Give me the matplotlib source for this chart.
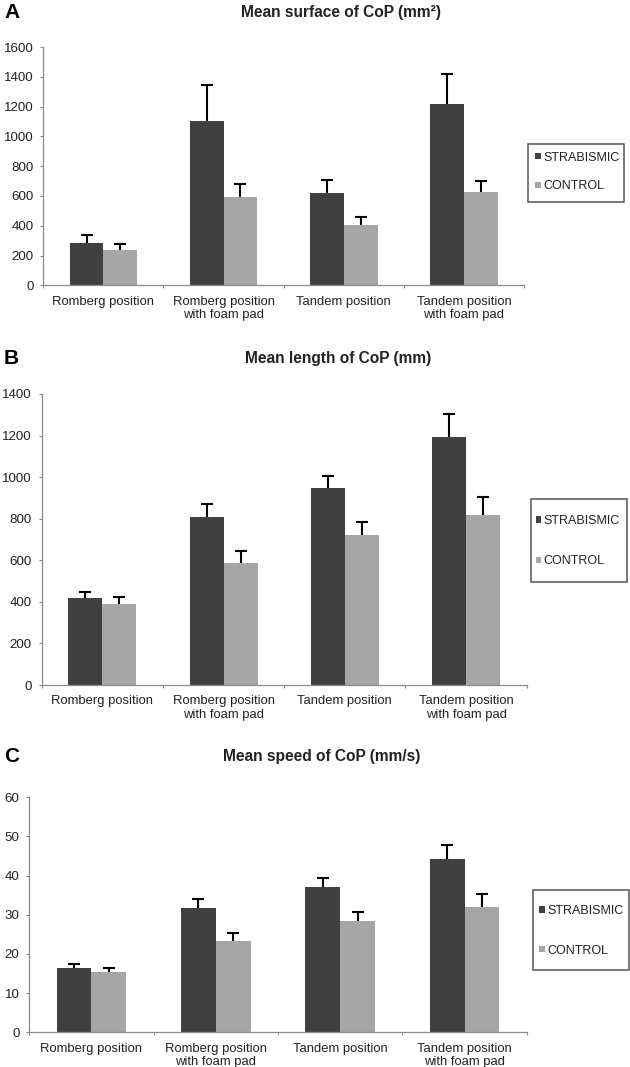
import matplotlib
matplotlib.use("Agg")
import matplotlib.pyplot as plt
from matplotlib.patches import Rectangle
import numpy as np

plt.rcParams['font.family'] = ['Liberation Sans', 'DejaVu Sans']

categories = ["Romberg position", "Romberg position\nwith foam pad",
              "Tandem position", "Tandem position\nwith foam pad"]
series_names = ["STRABISMIC", "CONTROL"]

# Panel A: Mean surface of CoP (mm²)
surf_strab = [284, 1105, 622, 1215]
surf_strab_err = [56, 238, 87, 204]
surf_ctrl = [237, 591, 403, 624]
surf_ctrl_err = [43, 91, 58, 76]

# Panel B: Mean length of CoP (mm)
len_strab = [417, 810, 946, 1195]
len_strab_err = [29, 59, 59, 107]
len_ctrl = [388, 587, 720, 819]
len_ctrl_err = [34, 58, 64, 84]

# Panel C: Mean speed of CoP (mm/s)
spd_strab = [16.5, 31.7, 37.0, 44.3]
spd_strab_err = [1.0, 2.4, 2.4, 3.6]
spd_ctrl = [15.4, 23.2, 28.3, 32.1]
spd_ctrl_err = [1.1, 2.2, 2.5, 3.3]

yticks_A = [0, 200, 400, 600, 800, 1000, 1200, 1400, 1600]
yticks_B = [0, 200, 400, 600, 800, 1000, 1200, 1400]
yticks_C = [0, 10, 20, 30, 40, 50, 60]

titles = ["Mean surface of CoP (mm²)", "Mean length of CoP (mm)", "Mean speed of CoP (mm/s)"]
letters = ["A", "B", "C"]

DARK = "#404040"
LIGHT = "#a6a6a6"
AXC = "#8c8c8c"
TXT = "#222222"

W, H = 630, 1067
fig = plt.figure(figsize=(W / 100, H / 100), dpi=100)

def fx(px):
    return px / W

def fy(py):
    return 1 - py / H

# axes pixel boxes: left, right, top, bottom
boxes = [(43.3, 524, 47, 285.3), (41.7, 526.7, 394, 685), (29.3, 526.7, 797.3, 1032.3)]
# legend frames: left, right, top, bottom ; handle left x ; rows centre y
legend_frames = [(528.3, 624.3, 144, 201.7), (530.7, 627.3, 499.3, 581.7), (533.3, 629.3, 890, 970)]
legend_anchor = [(535, 172.0), (535.7, 541.2), (539, 930.9)]
label_spacing = [1.35, 2.28, 2.18]
title_pos = [(341, 12), (338, 359), (322, 757)]
letter_pos = [(4, 13), (4, 359), (4, 756)]

data = [
    (surf_strab, surf_strab_err, surf_ctrl, surf_ctrl_err, yticks_A),
    (len_strab, len_strab_err, len_ctrl, len_ctrl_err, yticks_B),
    (spd_strab, spd_strab_err, spd_ctrl, spd_ctrl_err, yticks_C),
]

bw = 0.281
x = np.arange(len(categories))
for i, (s, se, c, ce, yt) in enumerate(data):
    l, r, t, b = boxes[i]
    ax = fig.add_axes([fx(l), fy(b), fx(r) - fx(l), fy(t) - fy(b)])
    ekw = dict(ecolor="black", elinewidth=1.5, capsize=4.5, capthick=1.5)
    b1 = ax.bar(x - bw / 2, s, bw, color=DARK, label=series_names[0], zorder=2)
    eb1 = ax.errorbar(x - bw / 2, s, yerr=[np.zeros(len(se)), se], fmt="none", zorder=1, **ekw)
    b2 = ax.bar(x + bw / 2, c, bw, color=LIGHT, label=series_names[1], zorder=2)
    eb2 = ax.errorbar(x + bw / 2, c, yerr=[np.zeros(len(ce)), ce], fmt="none", zorder=1, **ekw)
    for eb in (eb1, eb2):
        eb.lines[1][0].set_visible(False)
    ax.set_xlim(-0.5, len(categories) - 0.5)
    ax.set_ylim(yt[0], yt[-1])
    ax.set_yticks(yt)
    ax.set_xticks(x)
    ax.set_xticklabels(categories, fontsize=9.4, color=TXT, linespacing=1.15)
    ax.set_xticks(np.arange(-0.5, len(categories), 1.0), minor=True)
    ax.tick_params(axis="x", which="major", length=0, pad=7.5)
    ax.tick_params(axis="x", which="minor", length=2.5, color=AXC, width=0.8)
    ax.tick_params(axis="y", length=2.5, color=AXC, width=0.8, labelsize=9.6,
                   labelcolor=TXT, pad=4.5)
    for sp in ["top", "right"]:
        ax.spines[sp].set_visible(False)
    for sp in ["left", "bottom"]:
        ax.spines[sp].set_color(AXC)
        ax.spines[sp].set_linewidth(0.9)
    ax.patch.set_alpha(0)

    hx, hy = legend_anchor[i]
    leg = ax.legend(handles=[b1, b2], loc="center left",
                    bbox_to_anchor=(fx(hx), fy(hy)),
                    bbox_transform=fig.transFigure,
                    fontsize=9, frameon=False,
                    handlelength=0.45, handleheight=0.45, handletextpad=0.2,
                    labelspacing=label_spacing[i], borderpad=0, borderaxespad=0)
    for txt in leg.get_texts():
        txt.set_color(TXT)
    fl, fr, ft, fb = legend_frames[i]
    fig.patches.append(Rectangle((fx(fl), fy(fb)), fx(fr) - fx(fl), fy(ft) - fy(fb),
                                 transform=fig.transFigure, fill=False,
                                 edgecolor="#555555", linewidth=1.1))

    tx, ty = title_pos[i]
    fig.text(fx(tx), fy(ty), titles[i], ha="center", va="center",
             fontsize=11.2, fontweight="bold", color=TXT)
    lx2, ly2 = letter_pos[i]
    fig.text(fx(lx2), fy(ly2), letters[i], ha="left", va="center",
             fontsize=15, fontweight="bold", color="black")

fig.savefig("out.png", dpi=100)
